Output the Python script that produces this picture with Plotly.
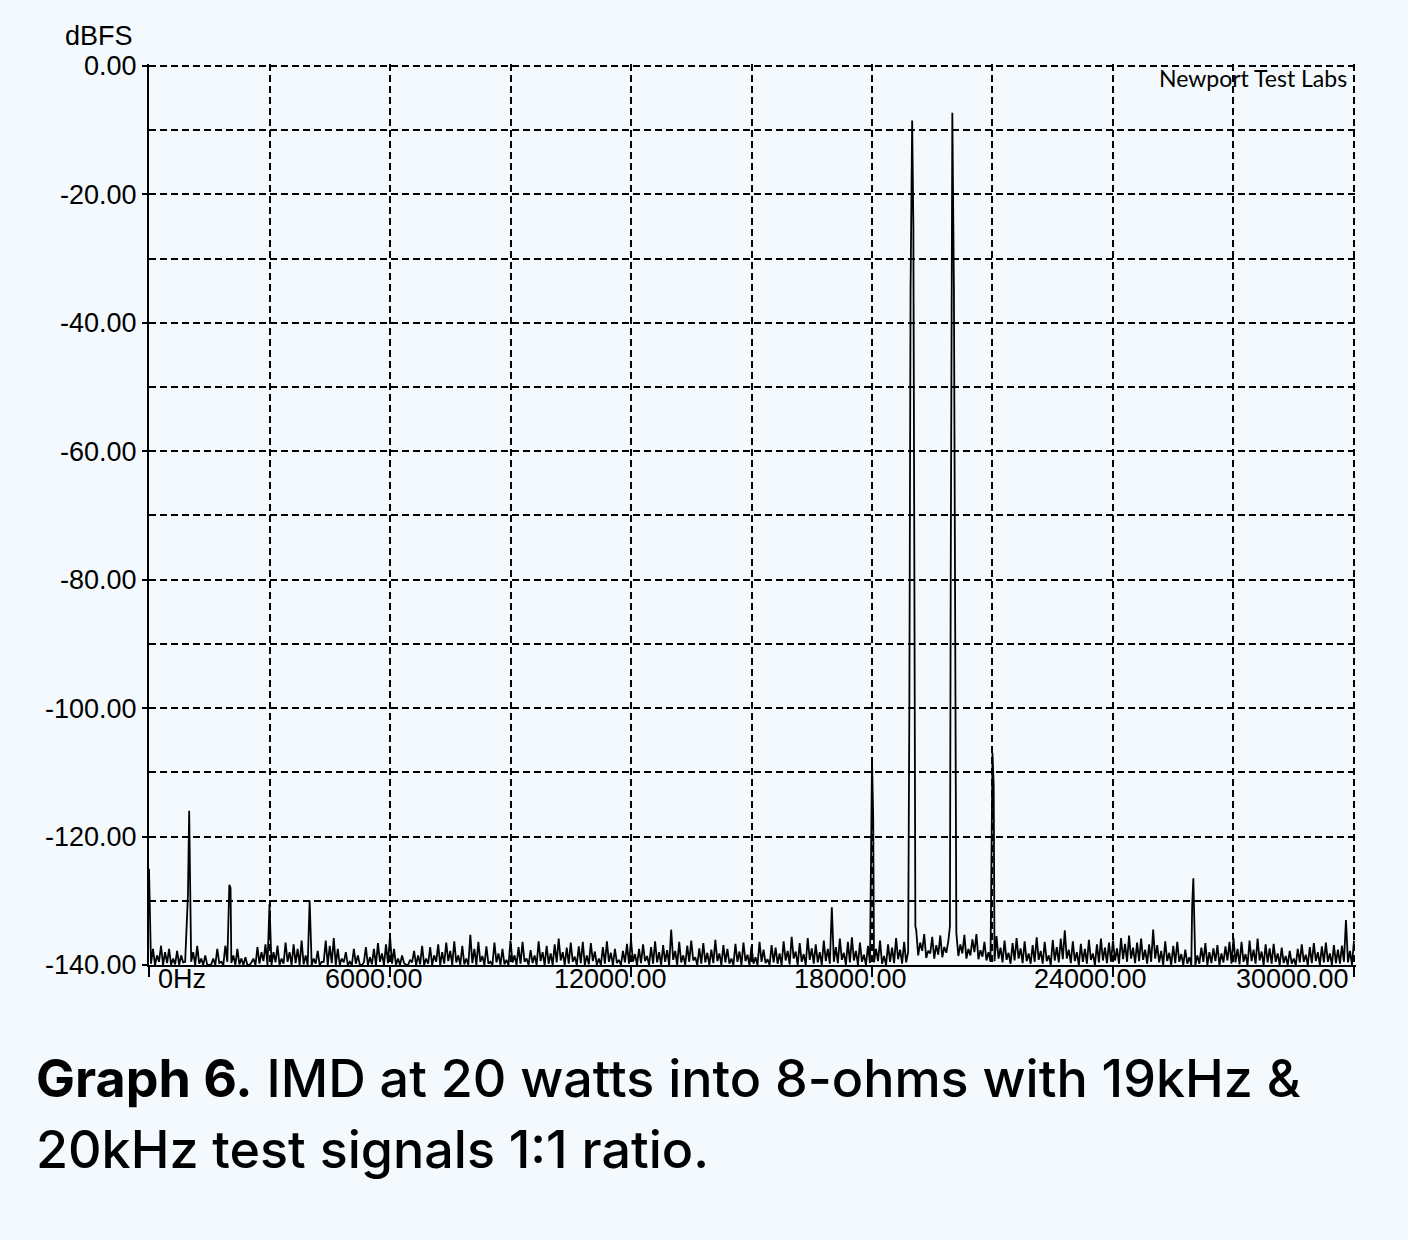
import plotly.graph_objects as go

# ---------------- data ----------------
# noise-floor tops, one value per 100 Hz bin from 0 Hz to 30000 Hz (dBFS)
noise_levels = [
    -125.0, -137.5, -138.5, -137.0, -138.0, -137.5, -139.0, -137.8, -138.5, -139.5,
    -116.0, -138.0, -137.0, -139.0, -138.5, -140.0, -139.0, -137.5, -139.5, -137.0,
    -127.5, -138.5, -137.5, -139.0, -138.8, -140.0, -139.0, -137.2, -138.0, -136.8,
    -130.5, -138.0, -137.0, -139.0, -136.5, -138.0, -136.8, -137.5, -136.2, -138.5,
    -130.0, -139.0, -137.8, -139.5, -136.2, -137.0, -135.8, -137.5, -139.0, -138.0,
    -139.5, -137.5, -138.5, -140.0, -137.2, -138.8, -137.5, -136.6, -138.2, -136.8,
    -135.5, -137.5, -139.0, -138.5, -140.0, -139.2, -137.8, -138.5, -137.0, -139.0,
    -137.2, -138.5, -136.8, -138.0, -136.5, -137.8, -136.3, -138.5, -137.0, -139.0,
    -135.3, -137.5, -136.4, -138.6, -137.1, -139.5, -136.5, -138.2, -137.5, -139.2,
    -136.2, -138.5, -137.2, -136.4, -139.0, -137.7, -138.5, -136.3, -138.0, -137.0,
    -138.2, -136.8, -135.9, -138.0, -137.3, -136.5, -138.7, -137.1, -136.4, -138.5,
    -136.6, -137.9, -139.0, -137.2, -136.3, -138.1, -137.5, -139.2, -137.8, -136.7,
    -136.1, -138.3, -137.5, -136.8, -138.6, -137.2, -136.3, -138.0, -136.9, -137.7,
    -134.5, -137.8, -136.4, -138.5, -137.0, -136.2, -138.8, -137.4, -136.6, -138.1,
    -137.6, -136.1, -138.2, -136.9, -137.5, -139.0, -136.7, -137.9, -136.5, -138.4,
    -137.1, -138.8, -136.4, -137.6, -139.1, -136.9, -137.3, -138.2, -136.3, -137.8,
    -135.6, -137.9, -136.6, -138.3, -135.8, -137.4, -136.8, -138.0, -136.2, -137.5,
    -131.0, -137.2, -135.9, -138.1, -136.4, -135.7, -137.8, -136.5, -138.4, -137.0,
    -108.0, -137.5, -136.2, -138.6, -136.8, -137.3, -135.8, -137.6, -136.4, -138.0,
    -8.5, -134.5, -136.5, -135.2, -137.8, -135.6, -136.9, -135.4, -137.2, -136.3,
    -7.3, -135.0, -136.8, -135.3, -137.5, -136.0, -135.2, -137.7, -136.4, -138.0,
    -107.0, -135.5, -137.3, -136.2, -138.1, -136.6, -135.8, -137.4, -136.3, -138.2,
    -136.9, -135.7, -137.8, -136.4, -138.5, -136.1, -137.2, -135.9, -134.6, -137.6,
    -136.3, -138.0, -136.7, -137.5, -136.1, -138.2, -136.8, -135.9, -137.3, -136.5,
    -136.2, -137.4, -135.8, -136.7, -135.4, -137.3, -136.5, -135.9, -137.6, -136.8,
    -134.5, -136.9, -137.8, -136.3, -138.1, -137.0, -136.4, -138.3, -137.6, -138.8,
    -126.5, -138.5, -137.3, -136.6, -138.0, -137.4, -136.9, -138.2, -137.1, -136.4,
    -135.8, -137.5, -136.4, -138.3, -136.2, -137.6, -135.9, -137.9, -136.8, -137.4,
    -136.7, -138.2, -137.3, -138.6, -137.8, -139.0, -137.5, -136.8, -138.4, -137.2,
    -136.6, -138.0, -137.1, -136.5, -138.2, -136.9, -137.6, -137.0, -133.0, -137.8,
    -136.2,
]
# noise-floor dips, one value midway between bins (50 Hz, 150 Hz, ... 29950 Hz)
noise_dips = [
    -139.8, -140.0, -139.5, -140.0, -139.7, -140.0, -139.9, -140.0, -139.6, None,
    -139.5, -140.0, -139.8, -140.0, -140.0, -139.9, -140.0, -139.7, -140.0, -139.5,
    -139.7, -140.0, -139.9, -140.0, -140.0, -139.6, -140.0, -139.8, -139.4, -140.0,
    -140.0, -139.6, -140.0, -139.8, -139.5, -140.0, -139.7, -140.0, -139.9, -140.0,
    -140.0, -139.8, -140.0, -139.5, -140.0, -139.7, -140.0, -140.0, -139.6, -140.0,
    -140.0, -139.8, -140.0, -139.6, -140.0, -139.9, -140.0, -139.5, -140.0, -139.7,
    -139.8, -140.0, -140.0, -139.7, -140.0, -139.6, -140.0, -139.9, -140.0, -139.8,
    -140.0, -139.5, -140.0, -139.8, -139.4, -140.0, -139.6, -140.0, -139.9, -140.0,
    -139.7, -140.0, -139.5, -140.0, -139.8, -140.0, -139.6, -140.0, -139.9, -140.0,
    -139.6, -140.0, -139.8, -139.5, -140.0, -139.7, -140.0, -139.4, -140.0, -139.8,
    -140.0, -139.6, -139.3, -140.0, -139.8, -139.5, -140.0, -139.7, -140.0, -139.9,
    -139.4, -140.0, -140.0, -139.8, -139.5, -140.0, -139.7, -140.0, -139.6, -139.8,
    -139.5, -140.0, -139.7, -139.4, -140.0, -139.8, -139.6, -140.0, -139.5, -140.0,
    -139.2, -140.0, -139.6, -140.0, -139.5, -139.3, -140.0, -139.8, -139.6, -140.0,
    -139.7, -139.4, -140.0, -139.6, -139.8, -140.0, -139.5, -140.0, -139.4, -140.0,
    -139.8, -140.0, -139.5, -139.7, -140.0, -139.6, -139.8, -140.0, -139.3, -139.9,
    -139.0, -140.0, -139.5, -140.0, -139.2, -139.8, -139.6, -140.0, -139.4, -139.8,
    -139.5, -139.7, -139.2, -140.0, -139.6, -139.3, -140.0, -139.5, -140.0, -139.7,
    -139.6, -139.4, -139.8, -140.0, -139.5, -139.7, -139.1, -139.8, -139.6, None,
    None, -138.5, -137.8, -138.9, -138.2, -139.0, -138.4, -138.8, -138.1, None,
    None, -138.6, -138.2, -139.0, -138.5, -138.0, -139.1, -138.7, -139.3, -139.5,
    -139.4, -139.0, -139.6, -139.2, -139.8, -139.3, -139.0, -139.7, -139.4, -139.8,
    -139.5, -139.2, -139.8, -139.4, -140.0, -139.3, -139.6, -139.1, -139.0, -139.7,
    -139.4, -140.0, -139.5, -139.8, -139.2, -140.0, -139.6, -139.3, -139.7, -139.5,
    -139.3, -139.8, -139.1, -139.5, -139.0, -139.7, -139.4, -139.2, -139.8, -139.5,
    -139.0, -139.6, -140.0, -139.4, -140.0, -139.7, -139.5, -140.0, -139.8, -140.0,
    -140.0, -139.8, -139.5, -140.0, -139.7, -139.4, -140.0, -139.6, -139.3, -139.8,
    -139.6, -139.9, -139.5, -140.0, -139.4, -139.8, -139.3, -140.0, -139.6, -139.8,
    -139.5, -140.0, -139.7, -140.0, -139.8, -140.0, -139.6, -139.5, -140.0, -139.7,
    -139.4, -140.0, -139.6, -139.5, -140.0, -139.7, -139.8, -139.5, -139.6, -140.0,
]
noise_bin_hz = 100

# extra points describing the skirts of the tones and IMD products
peak_freqs = [970, 2030, 18030, 18930, 18960, 19030, 19060, 19080,
              19940, 19960, 19980, 20040, 20070, 20090, 21030, 25970]
peak_levels = [-129.0, -128.0, -117.0, -100.0, -35.0, -25.0, -80.0, -134.0,
               -134.0, -80.0, -24.0, -35.0, -100.0, -135.0, -112.0, -131.0]

x_tick_vals = [0, 6000, 12000, 18000, 24000, 30000]
x_tick_text = ["0Hz", "6000.00", "12000.00", "18000.00", "24000.00", "30000.00"]
y_tick_vals = [0, -20, -40, -60, -80, -100, -120, -140]
y_tick_text = ["0.00", "-20.00", "-40.00", "-60.00", "-80.00", "-100.00", "-120.00", "-140.00"]

y_unit = "dBFS"
credit = "Newport Test Labs"
caption_bold = "Graph 6."
caption_line1 = " IMD at 20 watts into 8-ohms with 19kHz &amp;"
caption_line2 = "20kHz test signals 1:1 ratio."

# ---------------- build series ----------------
freqs = [i * noise_bin_hz for i in range(len(noise_levels))]
levels = list(noise_levels)
for i, d in enumerate(noise_dips):
    if d is not None:
        freqs.append(i * noise_bin_hz + noise_bin_hz // 2)
        levels.append(d)
freqs += peak_freqs
levels += peak_levels
pairs = sorted(zip(freqs, levels))
fx = [p[0] for p in pairs]
fy = [p[1] for p in pairs]

# ---------------- layout ----------------
W, H = 1408, 1240
L, R, T, B = 149, 1356, 64, 965       # plot area in pixels
X_RANGE = [0, 30050]
Y_RANGE = [-140, 0.3]
BG = "#f3f9fc"

def px_x(px):
    return (px - L) / (R - L)

def px_y(py):
    return (B - py) / (B - T)

fig = go.Figure()
fig.add_trace(go.Scatter(x=fx, y=fy, mode="lines",
                         line=dict(color="#000000", width=1.8),
                         hoverinfo="skip", showlegend=False))

DASH = "7px,4px"
grid = dict(showgrid=True, gridcolor="#000000", gridwidth=1.5, griddash=DASH)
minor_grid = dict(showgrid=True, gridcolor="#000000", gridwidth=1.5,
                  griddash=DASH, ticks="")

fig.update_layout(
    width=W, height=H,
    margin=dict(l=L, r=W - R, t=T, b=H - B),
    paper_bgcolor=BG, plot_bgcolor=BG,
    xaxis=dict(range=X_RANGE, tickvals=x_tick_vals, showticklabels=False,
               ticks="outside", ticklen=10, tickwidth=1.5, tickcolor="#000000",
               showline=True, linecolor="#000000", linewidth=2, zeroline=False,
               minor=dict(dtick=3000, tick0=0, **minor_grid), **grid),
    yaxis=dict(range=Y_RANGE, tickvals=y_tick_vals, ticktext=y_tick_text,
               ticks="outside", ticklen=5, tickwidth=1.5, tickcolor="#000000",
               tickfont=dict(family="Liberation Sans, Arial", size=27, color="#000000"),
               showline=True, linecolor="#000000", linewidth=2, zeroline=False,
               minor=dict(dtick=10, tick0=0, **minor_grid), **grid),
)

tick_font = dict(family="Liberation Sans, Arial", size=27, color="#000000")
label_shift = [(7, "left"), (-16, "center"), (-21, "center"), (-22, "center"),
               (-22, "center"), (-3, "right")]
for v, t, (sh, anc) in zip(x_tick_vals, x_tick_text, label_shift):
    fig.add_annotation(x=v, y=px_y(979), xref="x", yref="paper", text=t,
                       showarrow=False, xanchor=anc, yanchor="middle", xshift=sh,
                       font=tick_font)

fig.add_annotation(x=px_x(135), y=px_y(36), xref="paper", yref="paper", text=y_unit,
                   showarrow=False, xanchor="right", yanchor="middle", font=tick_font)

fig.add_annotation(x=px_x(1349), y=px_y(78), xref="paper", yref="paper", text=credit,
                   showarrow=False, xanchor="right", yanchor="middle",
                   font=dict(family="Lato", size=23, color="#000000"))

cap_font = dict(family="Inter", size=52, color="#000000", weight=500)
fig.add_annotation(x=px_x(34), y=px_y(1078), xref="paper", yref="paper",
                   text="<b>" + caption_bold + "</b>" + caption_line1,
                   showarrow=False, xanchor="left", yanchor="middle", font=cap_font)
fig.add_annotation(x=px_x(34), y=px_y(1149), xref="paper", yref="paper",
                   text=caption_line2,
                   showarrow=False, xanchor="left", yanchor="middle", font=cap_font)

fig.write_html(
    "out.html",
    config={"displayModeBar": False},
    post_script="document.body.style.margin='0';"
                "document.body.style.background='" + BG + "';",
)
